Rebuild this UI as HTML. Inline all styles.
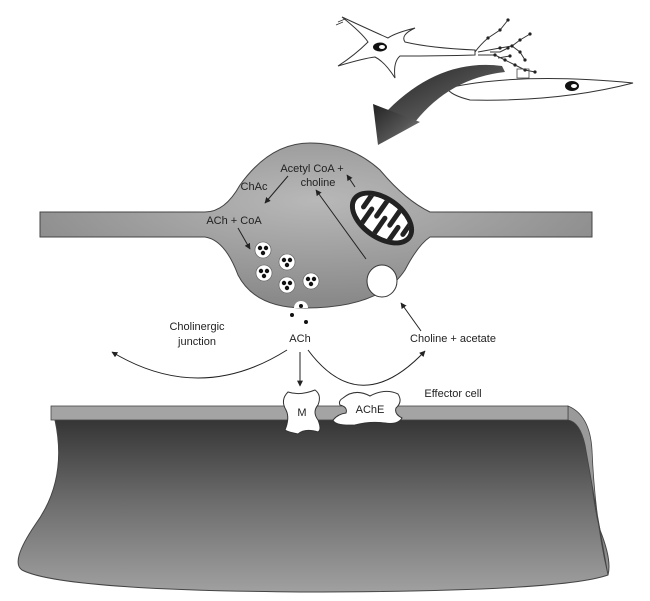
<!DOCTYPE html>
<html><head><meta charset="utf-8"><style>
html,body{margin:0;padding:0;background:#fff;}
svg{display:block;}
text{font-family:"Liberation Sans",sans-serif;font-size:11px;fill:#222;}
</style></head><body>
<svg width="650" height="601" viewBox="0 0 650 601" xmlns="http://www.w3.org/2000/svg">
<defs>
<radialGradient id="bulb" cx="0.5" cy="0.35" r="0.6">
<stop offset="0" stop-color="#b8b8b8"/><stop offset="1" stop-color="#8a8a8a"/></radialGradient>
<linearGradient id="cell" x1="0" y1="0" x2="0" y2="1">
<stop offset="0" stop-color="#333"/><stop offset="0.5" stop-color="#6e6e6e"/><stop offset="1" stop-color="#a0a0a0"/></linearGradient>
<linearGradient id="arr" x1="0" y1="0" x2="1" y2="1">
<stop offset="0" stop-color="#222"/><stop offset="0.6" stop-color="#555"/><stop offset="1" stop-color="#999"/></linearGradient>
<marker id="ah" viewBox="0 0 10 10" refX="9" refY="5" markerWidth="6" markerHeight="6" orient="auto"><path d="M0,0 L10,5 L0,10 z" fill="#222"/></marker>
<clipPath id="mc"><ellipse rx="31" ry="17"/></clipPath>
</defs>

<!-- top neuron -->
<path d="M475,50 Q430,48 405,42 Q400,35 415,28 Q395,33 388,38 Q370,30 342,17 Q362,33 368,42 Q355,55 338,66 Q365,58 375,57 Q385,62 395,78 Q393,62 400,56 Q440,56 475,55 z" fill="#fff" stroke="#333" stroke-width="1"/>
<path d="M338,22 L345,19 M336,25 L343,22" stroke="#333" stroke-width="0.8"/>
<g fill="none" stroke="#333" stroke-width="1">
<path d="M475,52 Q480,45 488,38 L500,30 L508,20 M478,52 L500,48 L512,46 L520,40 L530,34 M512,46 L520,52 L525,60 M478,55 L495,55 L505,60 L515,65 L525,70 L535,72 M490,52 L500,52 L508,48 M498,58 L510,56"/>
</g>
<g fill="#222">
<circle cx="488" cy="38" r="1.6"/><circle cx="500" cy="30" r="1.6"/><circle cx="508" cy="20" r="1.6"/><circle cx="500" cy="48" r="1.6"/><circle cx="512" cy="46" r="1.6"/><circle cx="520" cy="40" r="1.6"/><circle cx="530" cy="34" r="1.6"/><circle cx="520" cy="52" r="1.6"/><circle cx="525" cy="60" r="1.6"/><circle cx="495" cy="55" r="1.6"/><circle cx="505" cy="60" r="1.6"/><circle cx="515" cy="65" r="1.6"/><circle cx="525" cy="70" r="1.6"/><circle cx="535" cy="72" r="1.6"/><circle cx="508" cy="48" r="1.6"/><circle cx="510" cy="56" r="1.6"/>
</g>
<ellipse cx="380" cy="47" rx="7" ry="4.5" fill="#111"/><ellipse cx="382" cy="47" rx="3" ry="2" fill="#fff"/>
<rect x="517" y="69" width="12" height="9" fill="none" stroke="#444" stroke-width="0.8"/>
<path d="M447,88 Q520,72 633,83 Q560,102 470,100 Q450,95 447,88 z" fill="#fff" stroke="#333" stroke-width="1"/>
<ellipse cx="572" cy="86" rx="7" ry="5" fill="#111"/><ellipse cx="574" cy="86" rx="3" ry="2" fill="#fff"/>
<!-- curved arrow -->
<path d="M502,66 Q440,58 388,110 L415,122 Q450,78 505,72 z" fill="url(#arr)"/>
<path d="M373,104 L420,122 L378,145 z" fill="url(#arr)"/>

<!-- axon terminal -->
<path d="M40,212 L205,212 Q225,212 240,185 Q270,143 310,143 Q350,143 380,170 Q405,200 430,212 L592,212 L592,237 L430,237 Q418,245 405,270 Q380,308 305,308 Q255,308 238,275 Q225,240 205,237 L40,237 z" fill="url(#bulb)" stroke="#444" stroke-width="1"/>
<!-- mitochondrion -->
<g transform="translate(382,218) rotate(35)">
<ellipse rx="36" ry="22" fill="#222"/>
<g clip-path="url(#mc)">
<ellipse rx="31" ry="17" fill="#fff"/>
<g fill="#222">
<rect x="-24" y="-20" width="5" height="24" rx="2.5"/>
<rect x="-8" y="-20" width="5" height="24" rx="2.5"/>
<rect x="8" y="-20" width="5" height="24" rx="2.5"/>
<rect x="24" y="-20" width="5" height="24" rx="2.5"/>
<rect x="-16" y="-4" width="5" height="24" rx="2.5"/>
<rect x="0" y="-4" width="5" height="24" rx="2.5"/>
<rect x="16" y="-4" width="5" height="24" rx="2.5"/>
</g>
</g>
</g>
<!-- vesicles -->
<g>
<g transform="translate(263,250)"><circle r="8" fill="#fff" stroke="#555" stroke-width="0.6"/><circle cx="-3" cy="-2" r="2.2" fill="#111"/><circle cx="3" cy="-2" r="2.2" fill="#111"/><circle cx="0" cy="3" r="2.2" fill="#111"/></g>
<g transform="translate(287,262)"><circle r="8" fill="#fff" stroke="#555" stroke-width="0.6"/><circle cx="-3" cy="-2" r="2.2" fill="#111"/><circle cx="3" cy="-2" r="2.2" fill="#111"/><circle cx="0" cy="3" r="2.2" fill="#111"/></g>
<g transform="translate(264,273)"><circle r="8" fill="#fff" stroke="#555" stroke-width="0.6"/><circle cx="-3" cy="-2" r="2.2" fill="#111"/><circle cx="3" cy="-2" r="2.2" fill="#111"/><circle cx="0" cy="3" r="2.2" fill="#111"/></g>
<g transform="translate(287,285)"><circle r="8" fill="#fff" stroke="#555" stroke-width="0.6"/><circle cx="-3" cy="-2" r="2.2" fill="#111"/><circle cx="3" cy="-2" r="2.2" fill="#111"/><circle cx="0" cy="3" r="2.2" fill="#111"/></g>
<g transform="translate(311,281)"><circle r="8" fill="#fff" stroke="#555" stroke-width="0.6"/><circle cx="-3" cy="-2" r="2.2" fill="#111"/><circle cx="3" cy="-2" r="2.2" fill="#111"/><circle cx="0" cy="3" r="2.2" fill="#111"/></g>
</g>
<path d="M294,308 A7,7 0 0 1 308,308 z" fill="#fff"/>
<circle cx="301" cy="306" r="2" fill="#111"/><circle cx="292" cy="315" r="2" fill="#111"/><circle cx="306" cy="322" r="2" fill="#111"/>
<ellipse cx="382" cy="281" rx="15" ry="16" fill="#fff" stroke="#333" stroke-width="1"/>

<!-- internal arrows -->
<g stroke="#222" stroke-width="1" fill="none" marker-end="url(#ah)">
<line x1="288" y1="176" x2="265" y2="203"/>
<line x1="238" y1="228" x2="250" y2="249"/>
<line x1="366" y1="259" x2="316" y2="190"/>
<line x1="355" y1="187" x2="347" y2="175"/>
<line x1="421" y1="331" x2="401" y2="303"/>
<line x1="300" y1="352" x2="300" y2="386"/>
<path d="M287,350 Q200,405 112,352"/>
<path d="M308,350 Q360,420 425,351"/>
</g>

<!-- effector cell -->
<path d="M55,420 Q68,480 35,525 Q10,562 22,570 Q60,590 300,592 Q560,592 608,575 Q612,560 600,530 Q590,490 590,440 Q585,420 568,417 L568,420 z" fill="url(#cell)" stroke="#444" stroke-width="1"/>
<path d="M568,406 Q590,415 592,450 Q595,520 608,575 Q595,500 585,445 Q580,422 568,420 z" fill="#9a9a9a" stroke="#444" stroke-width="0.8"/>
<rect x="51" y="406" width="517" height="14" fill="#a4a4a4" stroke="#444" stroke-width="0.8"/>
<!-- receptors -->
<path d="M288,392 Q300,396 315,390 Q322,395 318,405 Q312,412 318,420 Q322,430 318,432 Q305,428 298,434 Q288,432 285,430 Q290,418 286,410 Q280,400 288,392 z" fill="#fff" stroke="#333" stroke-width="1"/>
<path d="M343,398 Q355,388 370,396 Q385,388 398,394 Q403,402 396,408 Q394,414 402,418 Q398,425 385,423 Q370,421 355,425 Q335,426 333,420 Q338,414 346,413 Q348,407 340,405 Q338,401 343,398 z" fill="#fff" stroke="#333" stroke-width="1"/>

<!-- labels -->
<text x="312" y="172" text-anchor="middle">Acetyl CoA +</text>
<text x="318" y="186" text-anchor="middle">choline</text>
<text x="254" y="190" text-anchor="middle">ChAc</text>
<text x="234" y="224" text-anchor="middle">ACh + CoA</text>
<text x="197" y="330" text-anchor="middle">Cholinergic</text>
<text x="197" y="345" text-anchor="middle">junction</text>
<text x="300" y="342" text-anchor="middle">ACh</text>
<text x="453" y="342" text-anchor="middle">Choline + acetate</text>
<text x="453" y="397" text-anchor="middle">Effector cell</text>
<text x="302" y="416" text-anchor="middle">M</text>
<text x="370" y="413" text-anchor="middle">AChE</text>
</svg>
</body></html>
